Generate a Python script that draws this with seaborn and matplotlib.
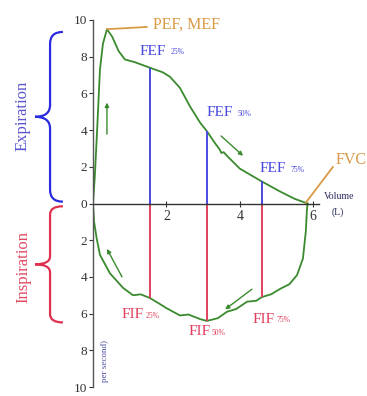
import numpy as np
import matplotlib
matplotlib.use("Agg")
import matplotlib.pyplot as plt
from matplotlib.path import Path
from matplotlib.patches import PathPatch
import seaborn as sns

# ======================
# DATA
# ======================
exp_vol = [0, 0.05, 0.11, 0.19, 0.27, 0.38, 0.52, 0.7, 0.87, 1.14, 1.55, 1.9, 2.1,
           2.37, 2.64, 2.92, 3.1, 3.32, 3.45, 3.5, 3.56, 3.65, 4.0, 4.6, 5.1, 5.5, 5.85]
exp_flow = [0, 1.5, 3.9, 7.3, 8.7, 9.5, 9.1, 8.3, 7.85, 7.7, 7.4, 7.15, 6.9,
            6.3, 5.3, 4.4, 3.95, 3.3, 2.95, 2.75, 2.8, 2.6, 1.9, 1.2, 0.65, 0.25, 0]

insp_vol = [0, 0.03, 0.1, 0.19, 0.46, 0.82, 1.09, 1.3, 1.55, 1.8, 2.0, 2.37, 2.6,
            2.92, 3.1, 3.4, 3.65, 3.9, 4.2, 4.45, 4.6, 4.85, 5.1, 5.35, 5.56, 5.72,
            5.8, 5.83, 5.85]
insp_flow = [0, -1.0, -1.9, -2.8, -3.8, -4.6, -5.0, -4.95, -5.15, -5.45, -5.7, -6.1,
             -6.05, -6.3, -6.4, -6.25, -5.9, -5.75, -5.35, -5.3, -5.1, -4.95, -4.65,
             -4.4, -3.9, -3.0, -1.5, -0.3, 0]

pct_vol = [1.55, 3.1, 4.6]
fef_flow = [7.4, 3.95, 1.2]
fif_flow = [-5.15, -6.4, -5.1]
pct_labels = ["25%", "50%", "75%"]

yticks = [-10, -8, -6, -4, -2, 0, 2, 4, 6, 8, 10]
ytick_labels = [str(abs(t)) for t in yticks]
xticks = [2, 4, 6]

# ======================
# STYLE
# ======================
sns.set_style("white")
plt.rcParams["font.family"] = ["Liberation Serif", "DejaVu Serif"]

GREEN = "#3a8a2e"
BLUE = "#4a4ae0"
RED = "#e0405e"
ORANGE = "#d99a45"

fig = plt.figure(figsize=(3.67, 3.96), dpi=100)
ax = fig.add_axes([0.2534, 0.0227, 0.615, 0.9268])

# curves
sns.lineplot(x=exp_vol, y=exp_flow, sort=False, estimator=None, color=GREEN, lw=1.3, ax=ax)
sns.lineplot(x=insp_vol, y=insp_flow, sort=False, estimator=None, color=GREEN, lw=1.3, ax=ax)

# FEF / FIF vertical lines
ax.vlines(pct_vol, 0, fef_flow, color=BLUE, lw=1.4)
ax.vlines(pct_vol, fif_flow, 0, color=RED, lw=1.4)

# axes
ax.set_xlim(0, 6.15)
ax.set_ylim(-10, 10)
for s in ["top", "right"]:
    ax.spines[s].set_visible(False)
ax.spines["bottom"].set_position(("data", 0))
ax.spines["bottom"].set_color("#333333")
ax.spines["left"].set_color("#555555")
ax.spines["bottom"].set_linewidth(1.0)
ax.spines["left"].set_linewidth(1.0)
ax.set_yticks(yticks)
ax.set_yticklabels(ytick_labels)
ax.set_xticks(xticks)
ax.set_xticklabels([str(t) for t in xticks])
ax.tick_params(axis="y", direction="out", length=3, width=0.8, pad=1, labelsize=9.5,
               left=True, colors="#333333")
ax.tick_params(axis="x", direction="inout", length=5, width=0.8, pad=2, labelsize=10,
               bottom=True, colors="#333333")

# labels FEF
fef_pos = [(1.28, 8.3), (3.1, 4.95), (4.55, 1.9)]
for (x, y), p in zip(fef_pos, pct_labels):
    t = ax.text(x, y, "FEF", color=BLUE, fontsize=11, va="center", ha="left")
    ax.annotate(p, xy=(1, 0), xycoords=t, xytext=(3, 1), textcoords="offset points",
                color=BLUE, fontsize=5.5, va="bottom", ha="left")

fif_pos = [(0.79, -6.05), (2.59, -7.0), (4.36, -6.3)]
for (x, y), p in zip(fif_pos, pct_labels):
    t = ax.text(x, y, "FIF", color=RED, fontsize=11, va="center", ha="left")
    ax.annotate(p, xy=(1, 0), xycoords=t, xytext=(1, 1), textcoords="offset points",
                color=RED, fontsize=5.5, va="bottom", ha="left")

# PEF / FVC markers
ax.plot([0.38, 1.47], [9.5, 9.62], color=ORANGE, lw=1.3, clip_on=False)
ax.text(1.63, 9.73, "PEF, MEF", color=ORANGE, fontsize=11.5, va="center", ha="left")
ax.plot([5.8, 6.54], [0.05, 2.0], color=ORANGE, lw=1.3, clip_on=False)
ax.text(6.6, 2.35, "FVC", color=ORANGE, fontsize=11.5, va="center", ha="left", clip_on=False)

ax.text(6.7, 0.4, "Volume", color="#2a2a60", fontsize=7, va="center", ha="center")
ax.text(6.68, -0.45, "(L)", color="#2a2a60", fontsize=7, va="center", ha="center")
ax.text(0.33, -8.6, "per second)", color="#4a4aa0", fontsize=6.5, rotation=90,
        va="center", ha="center")

# arrows
arrows = [((0.38, 3.78), (0.38, 5.5)),
          ((3.49, 3.68), (4.09, 2.6)),
          ((0.79, -4.0), (0.38, -2.47)),
          ((4.33, -4.67), (3.6, -5.77))]
for tail, head in arrows:
    ax.annotate("", xy=head, xytext=tail,
                arrowprops=dict(arrowstyle="-|>", color=GREEN, lw=1.0,
                                mutation_scale=6, shrinkA=0, shrinkB=0))


# braces
def brace(top, bottom, color):
    tip, spine, end = -1.58, -1.17, -0.82
    mid = (top + bottom) / 2
    d = (top - bottom) * 0.07
    verts = [(end, top), (spine, top), (spine, top - d),
             (spine, mid + d),
             (spine, mid), (tip, mid),
             (spine, mid), (spine, mid - d),
             (spine, bottom + d),
             (spine, bottom), (end, bottom)]
    codes = [Path.MOVETO, Path.CURVE3, Path.CURVE3,
             Path.LINETO,
             Path.CURVE3, Path.CURVE3,
             Path.CURVE3, Path.CURVE3,
             Path.LINETO,
             Path.CURVE3, Path.CURVE3]
    patch = PathPatch(Path(verts, codes), fc="none", ec=color, lw=1.6, clip_on=False)
    ax.add_patch(patch)


brace(9.35, 0.1, "#2a2ae0")
brace(-0.15, -6.48, "#e03050")
ax.text(-1.91, 4.76, "Expiration", color="#5a55d0", fontsize=12, rotation=90,
        va="center", ha="center")
ax.text(-1.91, -3.46, "Inspiration", color="#e04a60", fontsize=12, rotation=90,
        va="center", ha="center")

plt.savefig("out.png", dpi=100)
